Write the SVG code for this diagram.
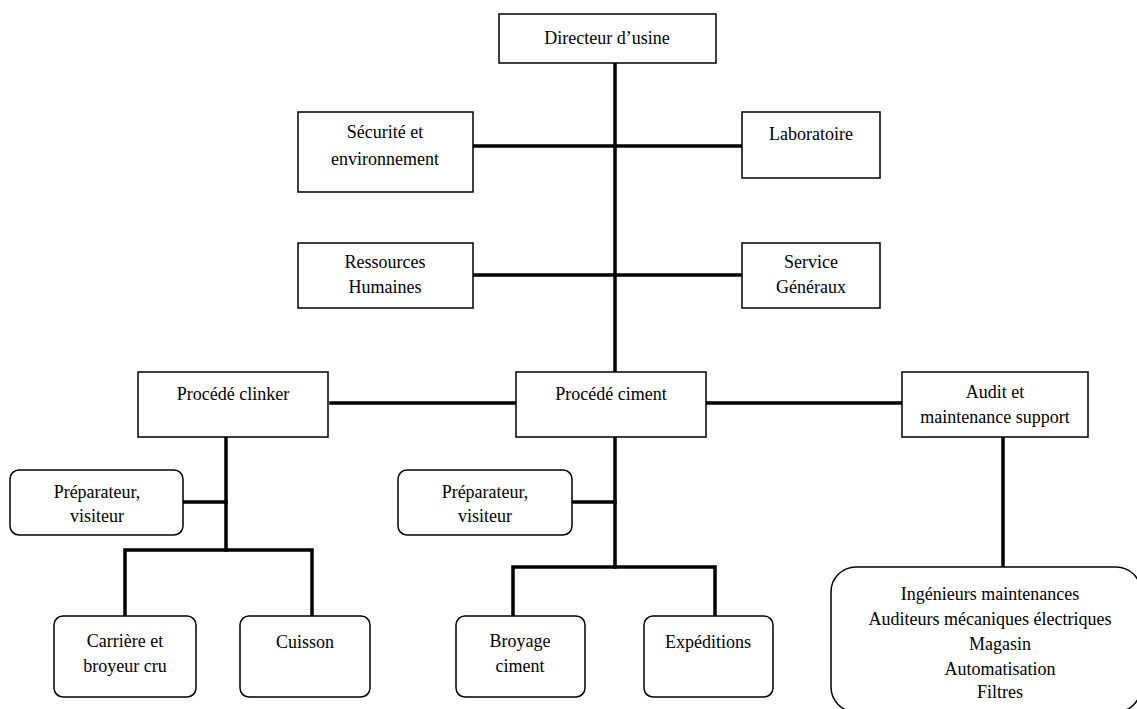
<svg xmlns="http://www.w3.org/2000/svg" width="1137" height="709" viewBox="0 0 1137 709">
<style>
.box{fill:#fff;stroke:#000;stroke-width:1.5}
.rbox{fill:#fff;stroke:#000;stroke-width:1.5}
.ln{stroke:#000;stroke-width:3.5;fill:none;stroke-linecap:square}
text{font-family:'Liberation Serif','Times New Roman',serif;font-size:18px;fill:#000;text-anchor:middle}
</style>
<rect width="1137" height="709" fill="#fff"/>
<g id="connectors">
<line class="ln" x1="615" y1="63" x2="615" y2="372"/>
<line class="ln" x1="473" y1="146" x2="742" y2="146"/>
<line class="ln" x1="473" y1="275" x2="740" y2="275"/>
<line class="ln" x1="331" y1="403" x2="516" y2="403"/>
<line class="ln" x1="706" y1="403" x2="902" y2="403"/>
<line class="ln" x1="226" y1="437" x2="226" y2="550"/>
<line class="ln" x1="183" y1="502" x2="226" y2="502"/>
<polyline class="ln" points="125,616 125,550 312,550 312,616"/>
<line class="ln" x1="615" y1="437" x2="615" y2="567"/>
<line class="ln" x1="572" y1="502" x2="615" y2="502"/>
<polyline class="ln" points="513,616 513,567 715,567 715,616"/>
<line class="ln" x1="1003" y1="437" x2="1003" y2="566"/>
</g>
<g id="directeur"><rect class="box" x="499" y="14" width="217" height="49"/><text x="607" y="44">Directeur d’usine</text></g>
<g id="securite"><rect class="box" x="298" y="112" width="175" height="80"/><text x="385" y="138">Sécurité et</text><text x="385" y="165">environnement</text></g>
<g id="laboratoire"><rect class="box" x="742" y="112" width="138" height="66"/><text x="811" y="140">Laboratoire</text></g>
<g id="rh"><rect class="box" x="298" y="243" width="175" height="65"/><text x="385" y="268">Ressources</text><text x="385" y="293">Humaines</text></g>
<g id="services"><rect class="box" x="742" y="243" width="138" height="65"/><text x="811" y="268">Service</text><text x="811" y="293">Généraux</text></g>
<g id="clinker"><rect class="box" x="138" y="372" width="190" height="65"/><text x="233" y="400">Procédé clinker</text></g>
<g id="ciment"><rect class="box" x="516" y="372" width="190" height="65"/><text x="611" y="400">Procédé ciment</text></g>
<g id="audit"><rect class="box" x="902" y="372" width="186" height="65"/><text x="995" y="398">Audit et</text><text x="995" y="423">maintenance  support</text></g>
<g id="prep1"><rect class="rbox" x="10" y="470" width="173" height="65" rx="9"/><text x="97" y="498">Préparateur,</text><text x="97" y="522">visiteur</text></g>
<g id="prep2"><rect class="rbox" x="398" y="470" width="174" height="65" rx="9"/><text x="485" y="498">Préparateur,</text><text x="485" y="522">visiteur</text></g>
<g id="carriere"><rect class="rbox" x="54" y="616" width="142" height="81" rx="9"/><text x="125" y="647">Carrière et</text><text x="125" y="672">broyeur cru</text></g>
<g id="cuisson"><rect class="rbox" x="240" y="616" width="130" height="81" rx="9"/><text x="305" y="648">Cuisson</text></g>
<g id="broyage"><rect class="rbox" x="456" y="616" width="129" height="81" rx="9"/><text x="520" y="647">Broyage</text><text x="520" y="672">ciment</text></g>
<g id="expeditions"><rect class="rbox" x="644" y="616" width="129" height="81" rx="9"/><text x="708" y="648">Expéditions</text></g>
<g id="maintenance"><rect class="rbox" x="831" y="567" width="310" height="145" rx="25"/><text x="990" y="600">Ingénieurs maintenances</text><text x="990" y="625">Auditeurs mécaniques  électriques</text><text x="1000" y="650">Magasin</text><text x="1000" y="675">Automatisation</text><text x="1000" y="698">Filtres</text></g>
</svg>
